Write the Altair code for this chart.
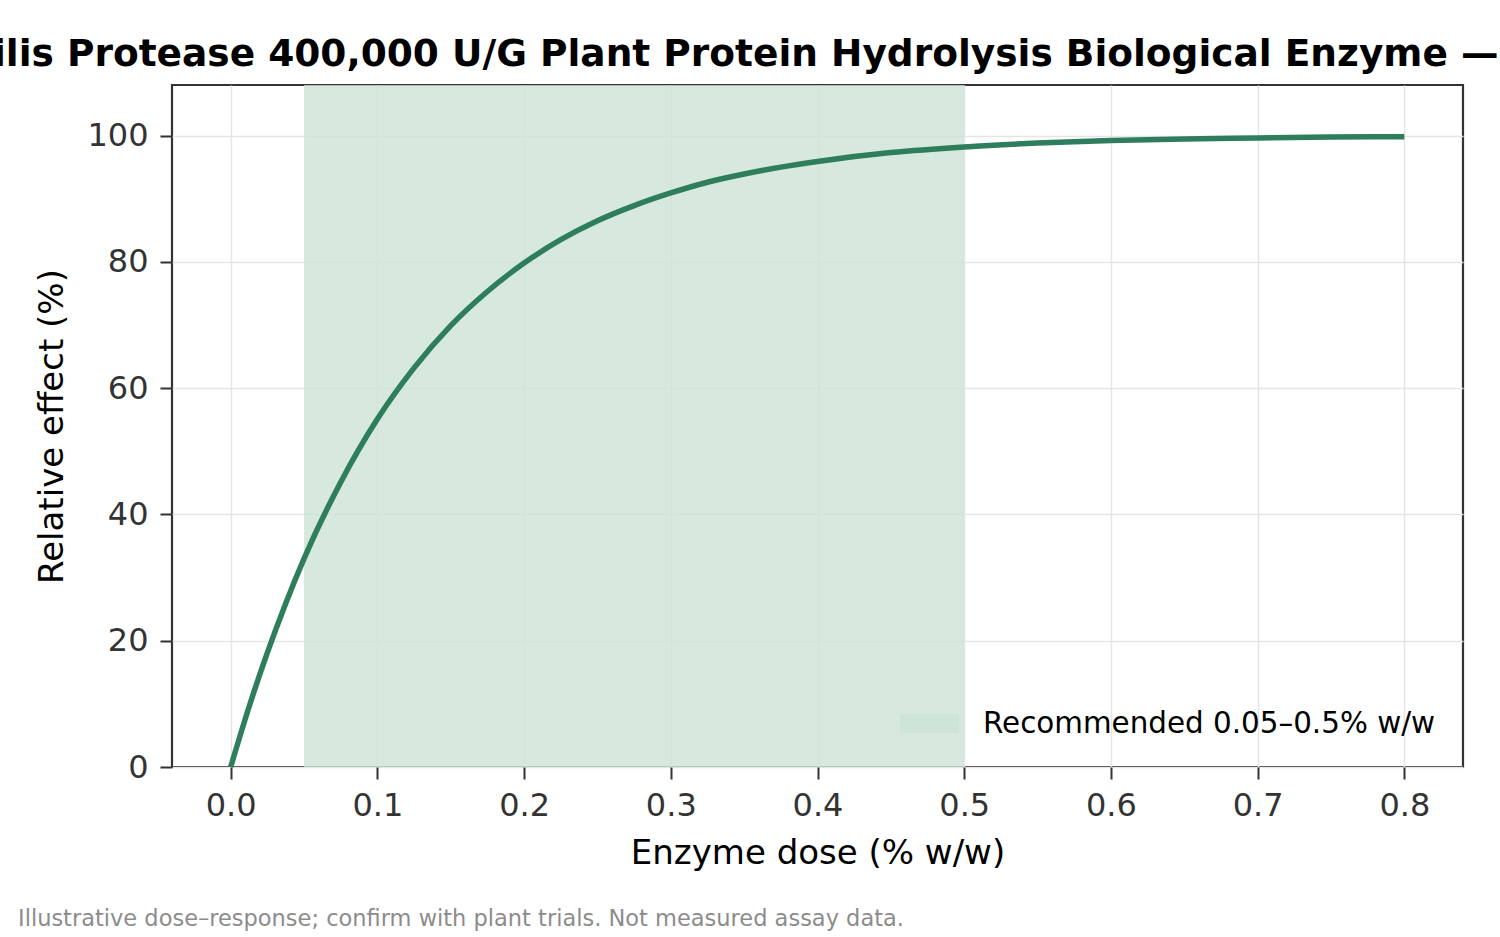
import altair as alt
import pandas as pd

# ---- data ----
dose = [0, 0.0125, 0.025, 0.0375, 0.05, 0.075, 0.1, 0.125, 0.15, 0.175, 0.2, 0.225,
        0.25, 0.275, 0.3, 0.325, 0.35, 0.375, 0.4, 0.45, 0.5, 0.55, 0.6, 0.65, 0.7,
        0.75, 0.8]
effect = [0, 9.5, 18.1, 25.9, 33.0, 45.1, 55.1, 63.2, 69.9, 75.3, 79.8, 83.5,
          86.5, 88.9, 90.9, 92.6, 93.9, 95.0, 95.9, 97.3, 98.2, 98.8, 99.2, 99.45, 99.6,
          99.75, 99.8]
band_start = [0.05]
band_end = [0.5]
band_label = ["Recommended 0.05–0.5% w/w"]
x_ticks = [0.0, 0.1, 0.2, 0.3, 0.4, 0.5, 0.6, 0.7, 0.8]
y_ticks = [0, 20, 40, 60, 80, 100]
title_text = ["ilis Protease 400,000 U/G Plant Protein Hydrolysis Biological Enzyme —"]
note_text = ["Illustrative dose–response; confirm with plant trials. Not measured assay data."]

W, H = 1291, 682
FONT = "DejaVu Sans"

curve_df = pd.DataFrame({"dose": dose, "effect": effect})
band_df = pd.DataFrame({"start": band_start, "end": band_end, "label": band_label})

xscale = alt.Scale(domain=[-0.04, 0.84], nice=False, zero=False)
yscale = alt.Scale(domain=[0, 108], nice=False)

xaxis = alt.Axis(values=x_ticks, format=".1f", title="Enzyme dose (% w/w)",
                 titleX=W / 2, titleY=96, titleBaseline="alphabetic",
                 labelPadding=11, tickSize=12)
yaxis = alt.Axis(values=y_ticks, format="d", title="Relative effect (%)",
                 titleX=-110, titleY=H / 2, titleBaseline="alphabetic", titleAngle=-90,
                 labelPadding=12, tickSize=12)

band = alt.Chart(band_df).mark_rect(opacity=0.8).encode(
    x=alt.X("start:Q", scale=xscale, axis=xaxis),
    x2="end:Q",
    color=alt.Color("label:N", scale=alt.Scale(range=["#cde4d6"]),
                    legend=alt.Legend(title=None, orient="none", legendX=728, legendY=609,
                                      symbolType="M-1,-0.322H1V0.322H-1Z",
                                      symbolSize=3481, symbolStrokeWidth=0,
                                      symbolOpacity=1, labelFont=FONT, labelFontSize=29.4,
                                      labelColor="#000000", labelOffset=24, labelLimit=700,
                                      padding=0)),
)

line = alt.Chart(curve_df).mark_line(color="#2e7d5b", strokeWidth=5.5,
                                     interpolate="monotone").encode(
    x=alt.X("dose:Q", scale=xscale, axis=xaxis),
    y=alt.Y("effect:Q", scale=yscale, axis=yaxis),
)

title = alt.Chart(pd.DataFrame({"t": title_text})).mark_text(
    font=FONT, fontSize=37.5, fontWeight="bold", align="left", baseline="alphabetic",
    color="#000000").encode(text="t:N", x=alt.value(-179), y=alt.value(-19))

note = alt.Chart(pd.DataFrame({"t": note_text})).mark_text(
    font=FONT, fontSize=22.5, align="left", baseline="alphabetic",
    color="#8c8c8c").encode(text="t:N", x=alt.value(-154), y=alt.value(841))

chart = alt.layer(band, line, title, note).properties(
    width=W, height=H,
    autosize=alt.AutoSizeParams(type="none"),
    padding={"left": 172, "top": 85, "right": 37, "bottom": 170},
    background="#ffffff",
).configure_view(
    stroke="#333333", strokeWidth=2.2
).configure_axis(
    labelFont=FONT, labelFontSize=32, labelColor="#333333",
    titleFont=FONT, titleFontSize=34, titleColor="#000000", titleFontWeight="normal",
    gridColor="#e5e5e5", gridWidth=1.5, domain=False,
    tickColor="#333333", tickWidth=2,
)

chart.save("out.html", embed_options={"renderer": "svg", "actions": False})
